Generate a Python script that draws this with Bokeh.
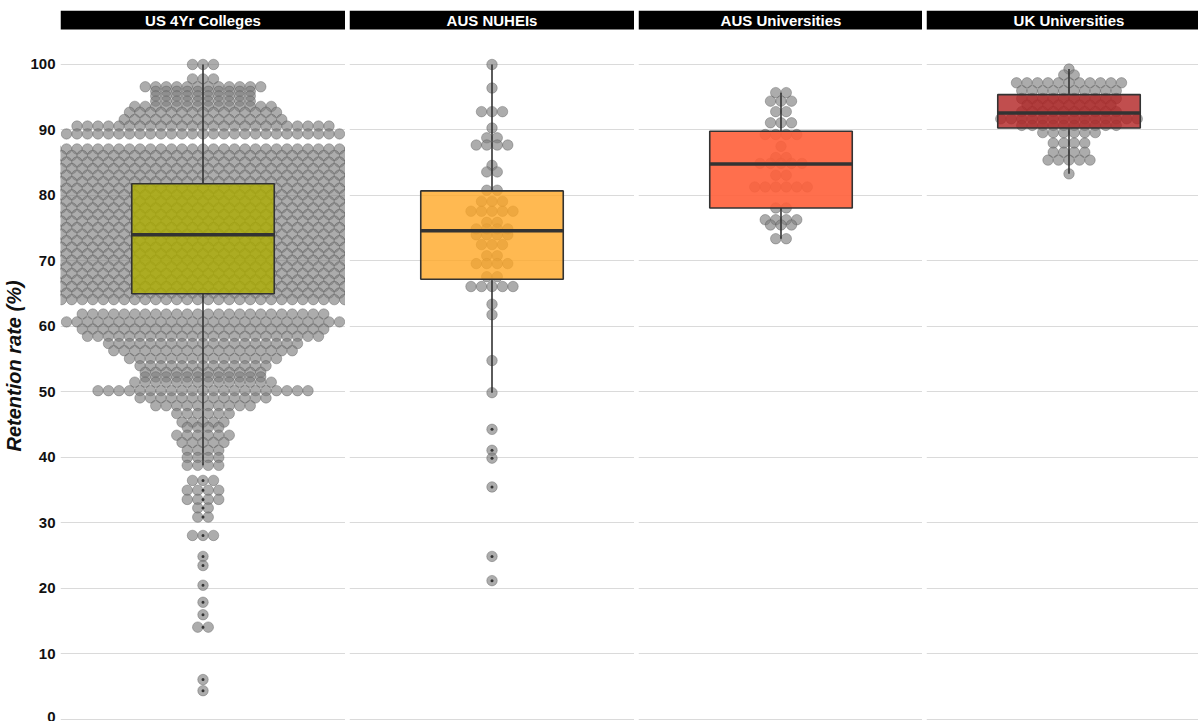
from bokeh.plotting import figure
from bokeh.layouts import row
from bokeh.models import Range1d, FixedTicker
from bokeh.embed import file_html
from bokeh.resources import INLINE
from bokeh.core.properties import value

# ---------------- data ----------------
groups = ["US 4Yr Colleges", "AUS NUHEIs", "AUS Universities", "UK Universities"]

# dot-plot rows: bin centre (retention %) and number of stacked dots
us_vals = [100.0, 97.8, 96.6, 95.9, 95.2, 94.4, 93.6, 92.7, 91.6, 90.6, 89.4,
           87.1, 86.1, 85.1, 84.1, 83.1, 82.1, 81.1, 80.1, 79.1, 78.1, 77.1, 76.1,
           75.1, 74.1, 73.1, 72.1, 71.1, 70.1, 69.1, 68.1, 67.1, 66.1, 65.1, 64.1,
           61.9, 60.7, 59.6, 58.5, 57.4, 56.3, 55.1, 54.0, 53.0, 52.3, 51.5, 50.2,
           49.1, 47.9, 46.7, 45.4, 44.6, 43.4, 42.3, 41.1, 40.0, 38.8, 36.5, 35.0,
           33.6, 32.3, 30.9, 28.1, 24.9, 23.5, 20.5, 17.9, 16.0, 14.1, 6.1, 4.4]
us_counts = [3, 3, 12, 10, 10, 10, 14, 15, 16, 25, 27,
             33, 34, 33, 34, 33, 34, 33, 34, 33, 34, 33, 34,
             33, 34, 33, 34, 33, 34, 33, 34, 33, 34, 33, 34,
             24, 27, 24, 23, 19, 18, 15, 13, 12, 12, 14, 21,
             13, 10, 6, 5, 4, 6, 5, 4, 4, 4, 3, 4,
             4, 2, 2, 3, 1, 1, 1, 1, 1, 2, 1, 1]

nuhei_vals = [100.0, 96.4, 92.8, 90.3, 88.8, 87.7, 84.6, 83.6, 80.8, 79.1, 77.6,
              75.9, 74.9, 74.0, 72.5, 70.8, 69.6, 67.6, 66.1, 63.4, 61.8, 54.8,
              49.9, 44.3, 41.1, 39.9, 35.5, 24.9, 21.2]
nuhei_counts = [1, 1, 3, 1, 2, 4, 1, 2, 2, 3, 5,
                2, 4, 4, 3, 2, 4, 2, 5, 1, 1, 1,
                1, 1, 1, 1, 1, 1, 1]

ausu_vals = [95.7, 94.4, 92.8, 91.1, 89.3, 87.5, 85.8, 84.9, 83.1, 81.3, 78.1,
             76.3, 75.5, 73.4]
ausu_counts = [2, 3, 2, 3, 4, 1, 2, 5, 2, 6, 2, 4, 3, 2]

uk_vals = [99.3, 98.4, 97.2, 96.0, 94.8, 93.8, 92.8, 91.7, 90.7, 89.6, 88.0,
           86.6, 85.4, 83.3]
uk_counts = [1, 2, 11, 10, 10, 9, 10, 14, 10, 6, 4, 4, 5, 1]

dot_vals = [us_vals, nuhei_vals, ausu_vals, uk_vals]
dot_counts = [us_counts, nuhei_counts, ausu_counts, uk_counts]

# box-plot statistics
q1 = [65.0, 67.2, 78.1, 90.3]
med = [74.0, 74.6, 84.8, 92.6]
q3 = [81.8, 80.7, 89.8, 95.4]
whisk_lo = [38.8, 49.9, 73.4, 83.3]
whisk_hi = [100.0, 100.0, 95.7, 99.3]

y_ticks = [0, 10, 20, 30, 40, 50, 60, 70, 80, 90, 100]

# ---------------- styling / layout ----------------
box_colors = ["#ADAD00", "#FFA726", "#FF5F3A", "#B22222"]
box_alpha = [0.8, 0.8, 0.9, 0.8]
Y0, Y1 = -0.305, 108.24
STRIP_LO = 105.34
STRIP_TXT = 106.75
UPP = 1.2 / 285.0         # x data units per pixel
DOT_PX = 10.5
frame_widths = [285, 285, 284, 272]
left_borders = [60, 4, 4, 4]
FRAME_H = 711

figs = []
for k, name in enumerate(groups):
    x_end = 0.4 + frame_widths[k] * UPP
    p = figure(frame_width=frame_widths[k], frame_height=FRAME_H,
               x_range=Range1d(0.4, x_end), y_range=Range1d(Y0, Y1),
               x_axis_location=None,
               y_axis_location="left" if k == 0 else None,
               toolbar_location=None, output_backend="svg",
               min_border_left=left_borders[k], min_border_right=0,
               min_border_top=10, min_border_bottom=0)
    p.outline_line_color = None
    p.background_fill_color = "white"
    p.border_fill_color = "white"
    p.xgrid.grid_line_color = None
    p.xgrid.visible = False
    p.ygrid.ticker = FixedTicker(ticks=y_ticks)
    p.ygrid.grid_line_color = "#dadada"
    p.ygrid.grid_line_width = 1

    if k == 0:
        ax = p.yaxis[0]
        ax.ticker = FixedTicker(ticks=y_ticks)
        ax.axis_line_color = None
        ax.major_tick_line_color = None
        ax.minor_tick_line_color = None
        ax.major_tick_out = 0
        ax.minor_tick_out = 0
        ax.major_label_standoff = 5
        ax.major_label_text_font = "Liberation Sans"
        ax.major_label_text_font_style = "bold"
        ax.major_label_text_font_size = "15px"
        ax.major_label_text_color = "#111111"
        ax.axis_label = "Retention rate (%)"
        ax.axis_label_text_font = "Liberation Sans"
        ax.axis_label_text_font_style = "bold italic"
        ax.axis_label_text_font_size = "20px"
        ax.axis_label_text_color = "#111111"
        ax.axis_label_standoff = 2

    # facet strip
    p.quad(left=[0.4], right=[x_end], bottom=[STRIP_LO], top=[Y1],
           fill_color="black", line_color=None)
    p.text(x=[1.0], y=[STRIP_TXT], text=[name], text_align="center",
           text_baseline="middle", text_color="white",
           text_font=value("Liberation Sans"), text_font_style="bold",
           text_font_size="15px")

    # dots (centre-stacked along x)
    xs, ys = [], []
    for v, n in zip(dot_vals[k], dot_counts[k]):
        for i in range(n):
            xs.append(1.0 + (i - (n - 1) / 2.0) * DOT_PX * UPP)
            ys.append(v)
    p.scatter(xs, ys, marker="circle", size=DOT_PX, fill_color="#7f7f7f",
              fill_alpha=0.65, line_color="#4d4d4d", line_alpha=0.45,
              line_width=0.8)

    # box plot
    p.segment(x0=[1.0, 1.0], x1=[1.0, 1.0], y0=[q3[k], q1[k]],
              y1=[whisk_hi[k], whisk_lo[k]], line_color="#333333",
              line_width=1.6)
    p.quad(left=[0.7], right=[1.3], bottom=[q1[k]], top=[q3[k]],
           fill_color=box_colors[k], fill_alpha=box_alpha[k],
           line_color="#333333", line_width=1.6)
    p.segment(x0=[0.7], x1=[1.3], y0=[med[k]], y1=[med[k]],
              line_color="#333333", line_width=3.5)

    outl = [v for v in dot_vals[k] if v < whisk_lo[k] or v > whisk_hi[k]]
    if outl:
        p.scatter([1.0] * len(outl), outl, marker="circle", size=3,
                  fill_color="#333333", line_color=None)
    figs.append(p)

layout = row(*figs)
open("out.html", "w").write(file_html(layout, INLINE))
